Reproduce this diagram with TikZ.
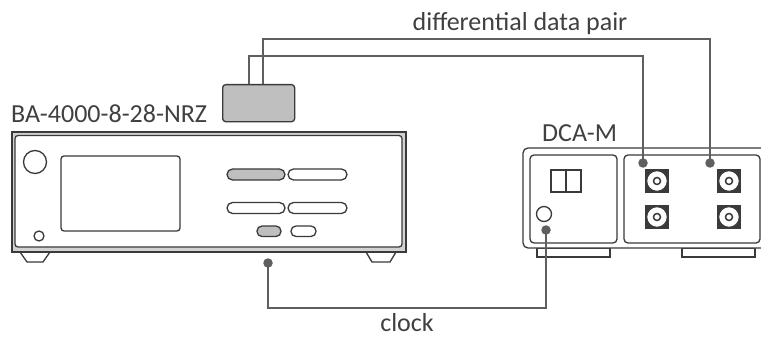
\documentclass[tikz,border=0pt]{standalone}
\usepackage{fontspec}
\setmainfont{Carlito}
\definecolor{devline}{HTML}{3A3A3A}
\definecolor{wirecol}{HTML}{5F5F5F}
\definecolor{keygray}{HTML}{BFBFBF}
\definecolor{labelcol}{HTML}{404040}
\tikzset{
  dev/.style={draw=devline, line width=1.3pt},
  wire/.style={draw=wirecol, line width=2.8pt},
  plug/.style={circle, fill=wirecol, inner sep=0pt, minimum size=9.5pt},
  lbl/.style={text=labelcol, font=\fontsize{26}{31}\selectfont, inner sep=0pt},
  probebox/.style={dev, fill=keygray, rounded corners=3pt, minimum width=72pt, minimum height=37pt, inner sep=0pt},
}
\begin{document}
\begin{tikzpicture}[x=1pt, y=-1pt]
    \useasboundingbox (0,0) rectangle (761,337);
    % pattern generator: feet, case, front panel
    \draw[dev, fill=white] (20,252) -- (27,262) -- (43,262) -- (50,252);
    \draw[dev, fill=white] (366,252) -- (372,262) -- (390,262) -- (396,252);
    \draw[dev, fill=gray!35] (12,132) rectangle (406,252);
    \draw[dev, fill=white, rounded corners=3pt] (15,135.5) rectangle (402,247);
    \draw[dev] (35,162) circle (11.5pt);
    \draw[dev] (39,236) circle (5pt);
    \draw[dev, rounded corners=3pt] (61,156) rectangle (180,231);
    % keys
    \draw[dev, fill=keygray, rounded corners=5.5pt] (227,169) rectangle (285,180);
    \draw[dev, rounded corners=5.5pt] (288,169) rectangle (347,180);
    \draw[dev, rounded corners=5.5pt] (227,202.5) rectangle (285,213.5);
    \draw[dev, rounded corners=5.5pt] (288,202.5) rectangle (347,213.5);
    \draw[dev, fill=keygray, rounded corners=5pt] (257,226) rectangle (281,236.5);
    \draw[dev, rounded corners=5pt] (291,226) rectangle (316,236.5);

    % sampling scope mainframe
    \draw[dev] (537,248) rectangle (610,257);
    \draw[dev] (682,248) rectangle (755,257);
    \draw[dev, fill=white, rounded corners=5pt] (523,148) rectangle (790,248);
    \draw[dev, rounded corners=4pt] (530,155) rectangle (617,243);
    \draw[dev, rounded corners=4pt] (624,155) rectangle (760,243);
    \draw[dev] (551,170) rectangle (581,192);
    \draw[dev] (566,170) -- (566,192);
    \draw[dev] (544,214) circle (7.5pt);
    % input connectors
    \foreach \cx in {657,729}
        \foreach \cy in {181,217} {
            \draw[dev, fill=devline] (\cx-11,\cy-11) rectangle (\cx+11,\cy+11);
            \draw[dev, line width=1pt, fill=white] (\cx,\cy) circle (10.3pt);
            \draw[dev, line width=1.5pt] (\cx,\cy) circle (3.5pt);
        }

    % labels
    \node[lbl, anchor=base west] (baname) at (11,122) {BA-4000-8-28-NRZ};
    \node[lbl, anchor=base west] (dcaname) at (542,142) {DCA-M};
    \node[lbl, anchor=base] (pairlbl) at (520,31) {differential data pair};
    \node[lbl, anchor=base] (clklbl) at (407,331) {clock};

    % cable ends
    \node[plug] (clkout) at (268,263) {};
    \node[plug] (clkin) at (546,230) {};
    \node[plug] (datap) at (643,163) {};
    \node[plug] (datan) at (710,163) {};
    \node[probebox, anchor=north west] (probe) at (222,84) {};

    % cables
    \draw[wire] (clkout.center) -- ++(0,45) -| (clkin.center);
    \draw[wire] ([xshift=27pt]probe.north west) -- ++(0,-28) -| (datap.center);
    \draw[wire] ([xshift=41pt]probe.north west) -- ++(0,-45) -| (datan.center);
\end{tikzpicture}
\end{document}
